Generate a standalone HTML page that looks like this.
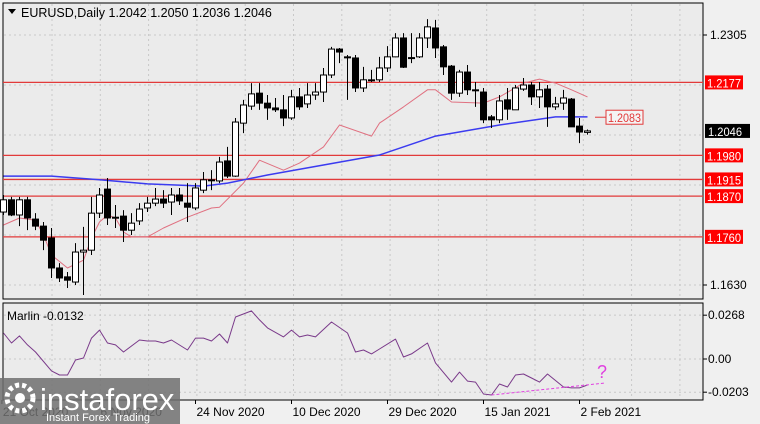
<!DOCTYPE html>
<html><head><meta charset="utf-8"><style>
html,body{margin:0;padding:0;width:760px;height:424px;overflow:hidden;background:#f0f0f0;font-family:"Liberation Sans",sans-serif}
svg text{font-family:"Liberation Sans",sans-serif}
</style></head><body>
<svg id="c" width="760" height="424" viewBox="0 0 760 424"></svg>
<script>
const opens=[1.1827,1.1860,1.1819,1.1860,1.1808,1.1789,1.1757,1.1676,1.1652,1.1638,1.1719,1.1724,1.1824,1.1889,1.1813,1.1816,1.1778,1.1803,1.1838,1.1851,1.1862,1.1854,1.1873,1.1851,1.1838,1.1886,1.1914,1.1911,1.1965,1.1924,1.2067,1.2113,1.2148,1.2121,1.2108,1.2103,1.2081,1.2138,1.2119,1.2143,1.2151,1.2197,1.2267,1.2246,1.2243,1.2162,1.2184,1.2184,1.2216,1.2246,1.2297,1.2243,1.2246,1.2297,1.2324,1.2273,1.2221,1.2148,1.2205,1.2157,1.2151,1.2084,1.2076,1.2130,1.2103,1.2159,1.2170,1.2138,1.2159,1.2111,1.2121,1.2132,1.2059,1.2042];
const highs=[1.1873,1.1868,1.1868,1.1868,1.1824,1.1800,1.1784,1.1689,1.1665,1.1743,1.1787,1.1868,1.1892,1.1919,1.1846,1.1832,1.1824,1.1851,1.1868,1.1892,1.1886,1.1892,1.1892,1.1905,1.1905,1.1935,1.1940,1.1976,1.2003,1.2081,1.2130,1.2175,1.2175,1.2143,1.2135,1.2143,1.2157,1.2162,1.2175,1.2175,1.2216,1.2273,1.2270,1.2251,1.2251,1.2219,1.2211,1.2246,1.2275,1.2310,1.2310,1.2310,1.2310,1.2348,1.2346,1.2278,1.2224,1.2211,1.2224,1.2178,1.2162,1.2089,1.2143,1.2162,1.2170,1.2189,1.2178,1.2178,1.2170,1.2138,1.2157,1.2135,1.2081,1.2050];
const lows=[1.1819,1.1816,1.1789,1.1778,1.1778,1.1724,1.1649,1.1638,1.1622,1.1630,1.1603,1.1711,1.1811,1.1792,1.1784,1.1746,1.1765,1.1792,1.1827,1.1843,1.1838,1.1819,1.1846,1.1800,1.1832,1.1878,1.1886,1.1905,1.1919,1.1922,1.2040,1.2103,1.2103,1.2076,1.2097,1.2059,1.2076,1.2103,1.2108,1.2130,1.2124,1.2189,1.2229,1.2130,1.2151,1.2151,1.2178,1.2178,1.2205,1.2245,1.2216,1.2229,1.2243,1.2270,1.2243,1.2197,1.2130,1.2138,1.2143,1.2111,1.2067,1.2054,1.2067,1.2076,1.2103,1.2154,1.2116,1.2108,1.2057,1.2103,1.2103,1.2057,1.2013,1.2036];
const closes=[1.1860,1.1819,1.1860,1.1811,1.1789,1.1751,1.1676,1.1649,1.1643,1.1719,1.1724,1.1824,1.1873,1.1811,1.1813,1.1778,1.1797,1.1835,1.1851,1.1862,1.1851,1.1873,1.1857,1.1840,1.1892,1.1914,1.1913,1.1962,1.1924,1.2070,1.2116,1.2146,1.2121,1.2108,1.2103,1.2081,1.2138,1.2111,1.2143,1.2151,1.2197,1.2267,1.2259,1.2245,1.2162,1.2184,1.2183,1.2216,1.2246,1.2297,1.2218,1.2244,1.2297,1.2327,1.2270,1.2219,1.2148,1.2205,1.2157,1.2156,1.2076,1.2076,1.2127,1.2105,1.2162,1.2170,1.2138,1.2157,1.2111,1.2119,1.2135,1.2057,1.2043,1.2046];
const blueIdx=[0,6,12,18,25,28,33,40,47,54,62,69,73];
const blueVal=[1.1924,1.1924,1.1914,1.1903,1.1897,1.1905,1.1927,1.1954,1.1981,1.2032,1.2062,1.2084,1.2084];
const redIdx=[0,2,4,5,6,8,10,11,12,13,14,15,16,18,20,23,26,27,30,32,35,37,40,42,46,47,50,53,54,56,60,62,65,67,69,71,73];
const redVal=[1.1792,1.1811,1.1805,1.1765,1.1711,1.1676,1.1697,1.1757,1.1800,1.1819,1.1811,1.1773,1.1760,1.1760,1.1784,1.1813,1.1838,1.1840,1.1905,1.1967,1.1940,1.1959,1.2003,1.2062,1.2032,1.2067,1.2111,1.2157,1.2157,1.2124,1.2121,1.2138,1.2175,1.2186,1.2175,1.2157,1.2138];
const levels=[1.2177,1.1980,1.1915,1.1870,1.1760];
const priceTicks=[1.2305,1.1630];
const marlinIdx=[0,1,2,3,4,6,7,8,9,10,11,12,13,14,15,17,18,19,20,21,23,24,25,26,27,28,29,31,32,33,35,36,37,38,39,41,43,44,45,46,47,49,50,51,53,54,56,57,58,59,60,61,62,63,64,65,66,67,68,70,71,72,73];
const marlinVal=[0.0159,0.0098,0.0141,0.0086,0.0043,-0.0073,-0.0098,-0.0098,-0.0006,0.0006,0.0128,0.0177,0.0098,0.0086,0.0043,0.0116,0.0110,0.0110,0.0098,0.0116,0.0055,0.0128,0.0128,0.0110,0.0153,0.0098,0.0257,0.0294,0.0239,0.0190,0.0135,0.0177,0.0135,0.0147,0.0135,0.0226,0.0159,0.0043,0.0055,0.0031,0.0061,0.0122,0.0012,0.0031,0.0098,-0.0024,-0.0141,-0.0080,-0.0135,-0.0141,-0.0214,-0.0220,-0.0153,-0.0171,-0.0098,-0.0092,-0.0116,-0.0141,-0.0092,-0.0171,-0.0177,-0.0177,-0.0159];
const marlinTicks=[0.0268,0.00,-0.0203];
const marlinTickLabels=["0.0268","0.00","-0.0203"];
const divIdx=[61,75.2];
const divVal=[-0.0220,-0.0147];
const dateIdx=[-0.2,12,24,36,48,60,72];
const dateLabels=["21 Oct 2020","6 Nov 2020","24 Nov 2020","10 Dec 2020","29 Dec 2020","15 Jan 2021","2 Feb 2021"];
const lastPrice=1.2046, maLabel=1.2083;

const NS="http://www.w3.org/2000/svg";
const svg=document.getElementById('c');
function mk(tag,attrs,parent){const e=document.createElementNS(NS,tag);for(const k in attrs)e.setAttribute(k,attrs[k]);(parent||svg).appendChild(e);return e;}
const X=i=>3.5+8*i;
const Y=p=>35+(1.2305-p)*3703.7;
const MY=v=>359-v*1635;

const mp=mk('rect',{x:3,y:3,width:700,height:296,fill:'#ebebeb',stroke:'#000','stroke-width':1});


const lp=mk('rect',{x:3,y:303,width:700,height:97,fill:'#ebebeb',stroke:'#000','stroke-width':1});


for(let k=0;k<14;k++){const gx=52+48.3*k;
 mk('line',{x1:gx,y1:4,x2:gx,y2:298,stroke:'#c8c8c8','stroke-dasharray':'2,3'});
 mk('line',{x1:gx,y1:304,x2:gx,y2:399,stroke:'#c8c8c8','stroke-dasharray':'2,3'});}
for(let k=0;k<6;k++){const gy=35+50*k;mk('line',{x1:4,y1:gy,x2:702,y2:gy,stroke:'#c8c8c8','stroke-dasharray':'2,3'});}
marlinTicks.forEach(v=>mk('line',{x1:4,y1:MY(v),x2:702,y2:MY(v),stroke:'#c8c8c8','stroke-dasharray':'2,3'}));
levels.forEach(l=>{const e=mk('line',{x1:3,y1:Y(l),x2:703,y2:Y(l),stroke:'#e23a3a','stroke-width':1.3});
 
 });
function poly(idx,val,yf,color,w,name,dash){let d=idx.map((i,k)=>(k?'L':'M')+X(i).toFixed(1)+','+yf(val[k]).toFixed(1)).join('');
 const e=mk('path',{d:d,fill:'none',stroke:color,'stroke-width':w,'stroke-linejoin':'round'});if(dash)e.setAttribute('stroke-dasharray',dash);
 
 return e;}
poly(redIdx,redVal,Y,'#e07080',1,'red-moving-average');
poly(blueIdx,blueVal,Y,'#3b3bf0',1.5,'blue-moving-average');
const cg=mk('g',{});


opens.forEach((o,i)=>{const x=X(i),c=closes[i];
 mk('line',{x1:x,y1:Y(highs[i]),x2:x,y2:Y(lows[i]),stroke:'#000','stroke-width':1},cg);
 const top=Math.min(Y(o),Y(c)),h=Math.max(1,Math.abs(Y(o)-Y(c)));
 const r=mk('rect',{x:x-3,y:top,width:6,height:h,fill:c>=o?'#fff':'#000',stroke:'#000','stroke-width':1},cg);
 
 });
poly(marlinIdx,marlinVal,MY,'#7a3a8a',1,'marlin-line');
poly(divIdx,divVal,MY,'#e040e0',1,'divergence-line','3,2');
const q=mk('text',{x:597,y:378,fill:'#e040e0','font-size':18,'font-family':'Liberation Serif,serif'});q.textContent='?';


mk('line',{x1:595,y1:Y(maLabel),x2:606,y2:Y(maLabel),stroke:'#e23a3a'});
const mb=mk('rect',{x:606,y:Y(maLabel)-7,width:37,height:14,fill:'#f4f4f4',stroke:'#e23a3a'});


const mt=mk('text',{x:608,y:Y(maLabel)+5,fill:'#e23a3a','font-size':12,textLength:33,lengthAdjust:'spacingAndGlyphs'});mt.textContent=maLabel.toFixed(4);
mk('rect',{x:704,y:0,width:56,height:424,fill:'#f0f0f0'});
priceTicks.forEach(p=>{mk('line',{x1:703,y1:Y(p),x2:707,y2:Y(p),stroke:'#000'});
 const t=mk('text',{x:710,y:Y(p)+4,'font-size':12,fill:'#000'});t.textContent=p.toFixed(4);
 
 });
levels.forEach(l=>{mk('rect',{x:705,y:Y(l)-7,width:38,height:14,fill:'#ff0000'});
 const t=mk('text',{x:707,y:Y(l)+5,'font-size':12,fill:'#fff',textLength:34,lengthAdjust:'spacingAndGlyphs'});t.textContent=l.toFixed(4);
 
 });
mk('rect',{x:705,y:Y(lastPrice)-7,width:45,height:14,fill:'#000'});
const lt=mk('text',{x:708,y:Y(lastPrice)+5,'font-size':12,fill:'#fff',textLength:34,lengthAdjust:'spacingAndGlyphs'});lt.textContent=lastPrice.toFixed(4);


marlinTicks.forEach((v,k)=>{mk('line',{x1:703,y1:MY(v),x2:707,y2:MY(v),stroke:'#000'});
 const t=mk('text',{x:708,y:MY(v)+4,'font-size':12,fill:'#000'});t.textContent=marlinTickLabels[k];
 
 });
dateIdx.forEach((i,k)=>{const x=X(i);mk('line',{x1:x,y1:400,x2:x,y2:404,stroke:'#000'});
 const t=mk('text',{x:x+1,y:416,'font-size':12,fill:'#000'});t.textContent=dateLabels[k];
 
 });
const tr=mk('path',{d:'M8,9 L16,9 L12,14 Z',fill:'#000'});


const tt=mk('text',{x:21,y:17,'font-size':12.5,fill:'#000'});tt.textContent='EURUSD,Daily  1.2042 1.2050 1.2036 1.2046';


const ml=mk('text',{x:7,y:320,'font-size':12,fill:'#000'});ml.textContent='Marlin -0.0132';


const lg=mk('g',{});


mk('rect',{x:0,y:378,width:180,height:46,fill:'#707070','fill-opacity':0.85},lg);
mk('circle',{cx:20,cy:398,r:13,fill:'none',stroke:'#fff','stroke-width':5,'stroke-dasharray':'4,3'},lg);
mk('circle',{cx:20,cy:398,r:5,fill:'#fff'},lg);
const l1=mk('text',{x:40,y:410,'font-size':31,fill:'#fff'},lg);l1.textContent='instaforex';
const l2=mk('text',{x:46,y:421,'font-size':11,fill:'#fff'},lg);l2.textContent='Instant Forex Trading';
</script>
</body></html>
